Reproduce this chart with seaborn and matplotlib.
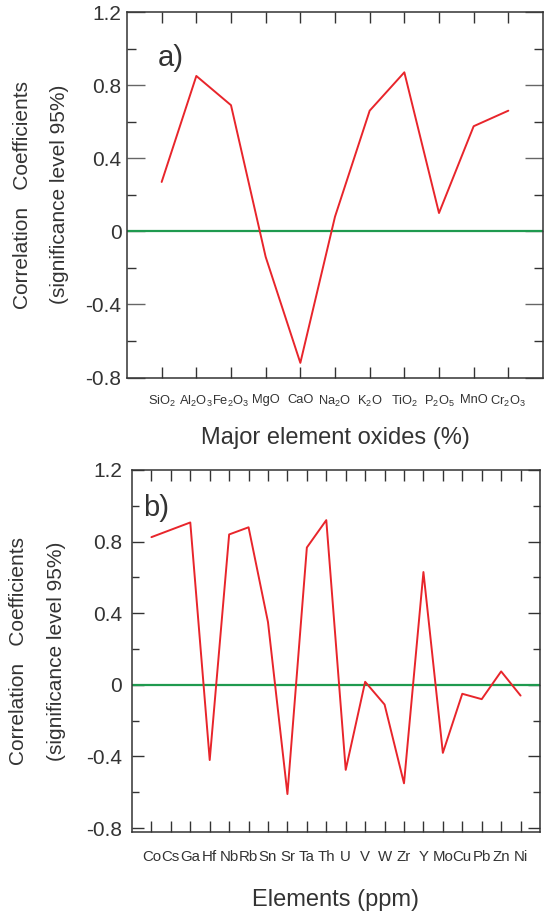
import numpy as np
import pandas as pd
import matplotlib
matplotlib.use("Agg")
import matplotlib.pyplot as plt
import seaborn as sns
from matplotlib.ticker import MultipleLocator

# ---- data ----
oxides = ["SiO$_2$", "Al$_2$O$_3$", "Fe$_2$O$_3$", "MgO", "CaO", "Na$_2$O",
          "K$_2$O", "TiO$_2$", "P$_2$O$_5$", "MnO", "Cr$_2$O$_3$"]
oxide_r = [0.27, 0.85, 0.69, -0.14, -0.72, 0.08, 0.66, 0.87, 0.10, 0.575, 0.66]

elements = ["Co", "Cs", "Ga", "Hf", "Nb", "Rb", "Sn", "Sr", "Ta", "Th", "U", "V",
            "W", "Zr", "Y", "Mo", "Cu", "Pb", "Zn", "Ni"]
element_r = [0.825, 0.866, 0.907, -0.42, 0.84, 0.88, 0.35, -0.61, 0.767, 0.92,
             -0.475, 0.017, -0.11, -0.55, 0.63, -0.38, -0.05, -0.08, 0.075, -0.06]

y_ticks = [-0.8, -0.4, 0, 0.4, 0.8, 1.2]
y_tick_labels = ["-0.8", "-0.4", "0", "0.4", "0.8", "1.2"]
ylabel = "Correlation   Coefficients\n(significance level 95%)"

sns.set_style("ticks")
plt.rcParams["font.family"] = ["Liberation Sans", "DejaVu Sans"]
plt.rcParams["mathtext.default"] = "regular"

RED = "#e8252b"
GREEN = "#1f9a4f"
TXT = "#333333"

fig = plt.figure(figsize=(5.44, 9.18), dpi=100)
W, H = 544.0, 918.0

def ax_rect(l, r, t, b):
    return [l / W, 1 - b / H, (r - l) / W, (b - t) / H]

ax1 = fig.add_axes(ax_rect(127, 543, 12, 377.5))
ax2 = fig.add_axes(ax_rect(132, 540, 470, 832))

dfa = pd.DataFrame({"pos": np.arange(len(oxides)), "r": oxide_r})
dfb = pd.DataFrame({"pos": np.arange(len(elements)), "r": element_r})

sns.lineplot(data=dfa, x="pos", y="r", ax=ax1, color=RED, lw=1.4, sort=False)
sns.lineplot(data=dfb, x="pos", y="r", ax=ax2, color=RED, lw=1.4, sort=False)

for ax in (ax1, ax2):
    ax.axhline(0, color=GREEN, lw=1.6, zorder=1)
    for s in ax.spines.values():
        s.set_visible(True)
        s.set_color(TXT)
        s.set_linewidth(1.1)

# panel a
ax1.set_xlim(-1, len(oxides))
ax1.set_ylim(-0.8, 1.2)
ax1.set_xticks(np.arange(len(oxides)))
ax1.set_xticklabels(oxides, fontsize=9.3, color=TXT)
ax1.set_yticks(y_ticks)
ax1.set_yticklabels(y_tick_labels, fontsize=15, color=TXT)
ax1.yaxis.set_minor_locator(MultipleLocator(0.2))
ax1.tick_params(axis="x", which="major", direction="in", top=True, bottom=True,
                length=8, width=1.0, color=TXT, pad=12)
ax1.tick_params(axis="y", which="major", direction="in", left=True, right=True,
                length=13, width=1.0, color="#666666", pad=4)
ax1.tick_params(axis="y", which="minor", direction="in", left=True, right=True,
                length=6.5, width=1.0, color=TXT)
ax1.set_xlabel("Major element oxides (%)", fontsize=17, color=TXT, va="top")
ax1.xaxis.set_label_coords(0.5, -0.135)
ax1.set_ylabel(ylabel, fontsize=15, color=TXT, linespacing=2.25, va="center")
ax1.yaxis.set_label_coords(-0.207, 0.5)
ax1.text(0.074, 0.874, "a)", transform=ax1.transAxes, fontsize=21, color=TXT,
         ha="left", va="center")

# panel b
ax2.set_xlim(-1, len(elements))
ax2.set_ylim(-0.822, 1.2)
ax2.set_xticks(np.arange(len(elements)))
ax2.set_xticklabels(elements, fontsize=10.8, color=TXT)
ax2.set_yticks(y_ticks)
ax2.set_yticklabels(y_tick_labels, fontsize=15, color=TXT)
ax2.yaxis.set_minor_locator(MultipleLocator(0.2))
ax2.tick_params(axis="x", which="major", direction="in", top=True, bottom=True,
                length=8, width=1.0, color=TXT, pad=13)
ax2.tick_params(axis="y", which="major", direction="in", left=True, right=True,
                length=8.5, width=1.0, color=TXT, pad=7)
ax2.tick_params(axis="y", which="minor", direction="in", left=True, right=True,
                length=5, width=1.0, color=TXT)
ax2.set_xlabel("Elements (ppm)", fontsize=17, color=TXT, va="top")
ax2.xaxis.set_label_coords(0.5, -0.157)
ax2.set_ylabel(ylabel, fontsize=15, color=TXT, linespacing=2.25, va="center")
ax2.yaxis.set_label_coords(-0.232, 0.5)
ax2.text(0.027, 0.895, "b)", transform=ax2.transAxes, fontsize=21, color=TXT,
         ha="left", va="center")

fig.savefig("out.png", dpi=100)
